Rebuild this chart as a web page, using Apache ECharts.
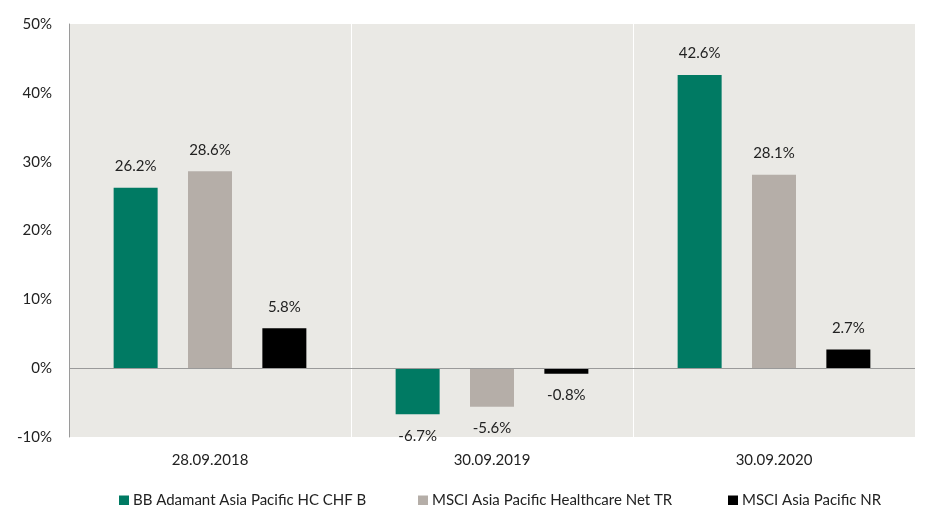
<!DOCTYPE html>
<html>
<head>
<meta charset="utf-8">
<script src="https://cdn.jsdelivr.net/npm/echarts@6/dist/echarts.min.js"></script>
<style>
  html, body { margin: 0; padding: 0; background: #fff; }
  #chart { width: 930px; height: 505px; }
</style>
</head>
<body>
<div id="chart"></div>
<script>
// data
var categories = ['28.09.2018', '30.09.2019', '30.09.2020'];
var seriesNames = ['BB Adamant Asia Pacific HC CHF B', 'MSCI Asia Pacific Healthcare Net TR', 'MSCI Asia Pacific NR'];
var fundValues = [26.2, -6.7, 42.6];
var healthcareValues = [28.6, -5.6, 28.1];
var asiaValues = [5.8, -0.8, 2.7];
var seriesColors = ['#007a63', '#b5aea8', '#000000'];

var font = 'Lato';
var chart = echarts.init(document.getElementById('chart'));

function makeSeries(idx, values) {
    return {
        name: seriesNames[idx],
        type: 'bar',
        barWidth: 44,
        barGap: '69%',
        itemStyle: { color: seriesColors[idx] },
        data: values.map(function (v) {
            return {
                value: v,
                label: { position: v < 0 ? 'bottom' : 'top' }
            };
        }),
        label: {
            show: true,
            distance: 14,
            color: '#222',
            fontFamily: font,
            fontSize: 15,
            formatter: function (p) { return p.value.toFixed(1) + '%'; }
        }
    };
}

var series = [
    makeSeries(0, fundValues),
    makeSeries(1, healthcareValues),
    makeSeries(2, asiaValues)
];
// zero line
series[0].markLine = {
    silent: true,
    symbol: 'none',
    label: { show: false },
    lineStyle: { color: '#9a9a9a', width: 1, type: 'solid' },
    data: [{ yAxis: 0 }]
};

var legendLefts = [114, 413, 723];
var legends = seriesNames.map(function (n, i) {
    return {
        data: [n],
        left: legendLefts[i],
        top: 488,
        itemWidth: 10,
        itemHeight: 10,
        itemGap: 0,
        icon: 'rect',
        textStyle: { fontFamily: font, fontSize: 15, color: '#222', padding: [0, 0, 0, -1] }
    };
});

var option = {
    animation: false,
    backgroundColor: '#ffffff',
    legend: legends,
    grid: {
        left: 69, right: 15, top: 24, bottom: 68,
        show: true,
        backgroundColor: '#eae9e5',
        borderWidth: 0
    },
    xAxis: {
        type: 'category',
        data: categories,
        axisLine: { show: false, onZero: false },
        axisTick: { show: false },
        splitLine: { show: true, lineStyle: { color: '#ffffff', width: 1 } },
        axisLabel: { margin: 16, color: '#222', fontFamily: font, fontSize: 15 }
    },
    yAxis: {
        type: 'value',
        min: -10,
        max: 50,
        interval: 10,
        axisLine: { show: true, lineStyle: { color: '#9a9a9a', width: 1 } },
        axisTick: { show: false },
        splitLine: { show: false },
        axisLabel: {
            margin: 17, color: '#222', fontFamily: font, fontSize: 15,
            formatter: '{value}%'
        }
    },
    series: series
};

chart.setOption(option);
</script>
</body>
</html>
